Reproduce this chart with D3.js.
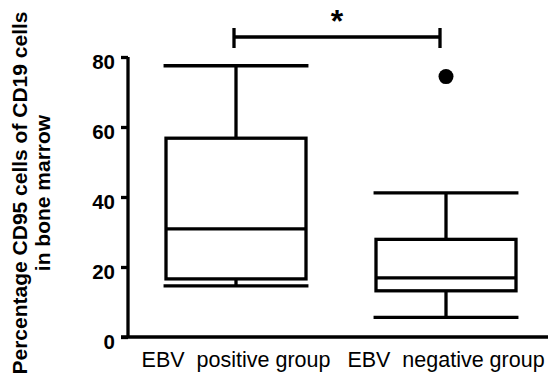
<!DOCTYPE html>
<html>
<head>
<meta charset="utf-8">
<script src="https://cdn.jsdelivr.net/npm/d3@7/dist/d3.min.js"></script>
<style>
  body { margin: 0; background: #fff; }
  text { font-family: "Liberation Sans", Arial, sans-serif; fill: #000; }
</style>
</head>
<body>
<svg width="548" height="376"></svg>
<script>
// groups and their box stats (min, q1, median, q3, max)
var groups = ["EBV  positive group", "EBV  negative group"];
var whiskerLow = [14.6, 5.6];
var q1 = [16.6, 13.2];
var median = [30.9, 16.9];
var q3 = [56.8, 27.9];
var whiskerHigh = [77.5, 41.2];
var outliers = [[], [74.4]];
var yTicks = [0, 20, 40, 60, 80];

var svg = d3.select("svg");
var sw = 3.3;

var y = d3.scaleLinear().domain([0, 80]).range([337, 57]);
var x = d3.scaleBand().domain(groups).range([131, 551]).padding(0);

var boxW = x.bandwidth() * 2 / 3;
var capW = x.bandwidth() * 0.345;

var data = groups.map(function(g, i) {
    return {name: g, lo: whiskerLow[i], q1: q1[i], med: median[i], q3: q3[i], hi: whiskerHigh[i], out: outliers[i]};
});

// y axis
var yAxis = d3.axisLeft(y).tickValues(yTicks).tickSize(7).tickPadding(6);
var gy = svg.append("g").attr("transform", "translate(128,0)").call(yAxis);
gy.select(".domain").attr("stroke", "#000").attr("stroke-width", sw)
    .attr("d", "M0," + y(80) + "V" + y(0));
gy.selectAll(".tick line").attr("stroke", "#000").attr("stroke-width", sw);
gy.selectAll(".tick text")
    .attr("dy", "0.55em")
    .style("font-size", "20.5px")
    .style("font-weight", "bold")
    .style("font-family", "'Liberation Sans', Arial, sans-serif");

// x axis baseline
svg.append("line")
    .attr("x1", 121).attr("x2", 548)
    .attr("y1", y(0)).attr("y2", y(0))
    .attr("stroke", "#000").attr("stroke-width", sw);

// x labels
svg.selectAll(".xlab")
    .data(groups)
    .enter().append("text")
    .attr("class", "xlab")
    .attr("x", function(d) { return x(d) + x.bandwidth() / 2; })
    .attr("y", 367)
    .attr("text-anchor", "middle")
    .style("white-space", "pre")
    .style("font-size", "21.5px")
    .text(function(d) { return d; });

// y title
var title = svg.append("text")
    .attr("transform", "translate(0,193) rotate(-90)")
    .attr("text-anchor", "middle")
    .style("font-size", "21px")
    .style("font-weight", "bold");
title.append("tspan").attr("x", 0).attr("y", 27).text("Percentage CD95 cells of CD19 cells");
title.append("tspan").attr("x", 0).attr("y", 50).text("in bone marrow");

// boxes
var box = svg.selectAll(".box")
    .data(data)
    .enter().append("g")
    .attr("class", "box")
    .attr("transform", function(d) { return "translate(" + (x(d.name) + x.bandwidth() / 2) + ",0)"; });

box.append("line")
    .attr("x1", 0).attr("x2", 0)
    .attr("y1", function(d) { return y(d.q3); })
    .attr("y2", function(d) { return y(d.hi); })
    .attr("stroke", "#000").attr("stroke-width", sw);
box.append("line")
    .attr("x1", 0).attr("x2", 0)
    .attr("y1", function(d) { return y(d.q1); })
    .attr("y2", function(d) { return y(d.lo); })
    .attr("stroke", "#000").attr("stroke-width", sw);
box.append("rect")
    .attr("x", -boxW / 2)
    .attr("width", boxW)
    .attr("y", function(d) { return y(d.q3); })
    .attr("height", function(d) { return y(d.q1) - y(d.q3); })
    .attr("fill", "#fff").attr("stroke", "#000").attr("stroke-width", sw);
box.append("line")
    .attr("x1", -boxW / 2).attr("x2", boxW / 2)
    .attr("y1", function(d) { return y(d.med); })
    .attr("y2", function(d) { return y(d.med); })
    .attr("stroke", "#000").attr("stroke-width", sw);
box.selectAll(".cap")
    .data(function(d) { return [d.lo, d.hi]; })
    .enter().append("line")
    .attr("class", "cap")
    .attr("x1", -capW).attr("x2", capW)
    .attr("y1", function(v) { return y(v); })
    .attr("y2", function(v) { return y(v); })
    .attr("stroke", "#000").attr("stroke-width", sw);
box.selectAll(".out")
    .data(function(d) { return d.out; })
    .enter().append("circle")
    .attr("class", "out")
    .attr("cx", 0)
    .attr("cy", function(v) { return y(v); })
    .attr("r", 7.5)
    .attr("fill", "#000");

// significance bracket
var bx1 = x(groups[0]) + x.bandwidth() / 2 - 2;
var bx2 = x(groups[1]) + x.bandwidth() / 2 - 6;
var by = 37;
svg.append("path")
    .attr("d", "M" + bx1 + "," + (by - 9) + "V" + (by + 11) +
               "M" + bx1 + "," + by + "H" + bx2 +
               "M" + bx2 + "," + (by - 9) + "V" + (by + 11))
    .attr("fill", "none").attr("stroke", "#000").attr("stroke-width", sw);
svg.append("text")
    .attr("x", (bx1 + bx2) / 2)
    .attr("y", 32)
    .attr("text-anchor", "middle")
    .style("font-size", "32px")
    .style("font-weight", "bold")
    .text("*");
</script>
</body>
</html>
